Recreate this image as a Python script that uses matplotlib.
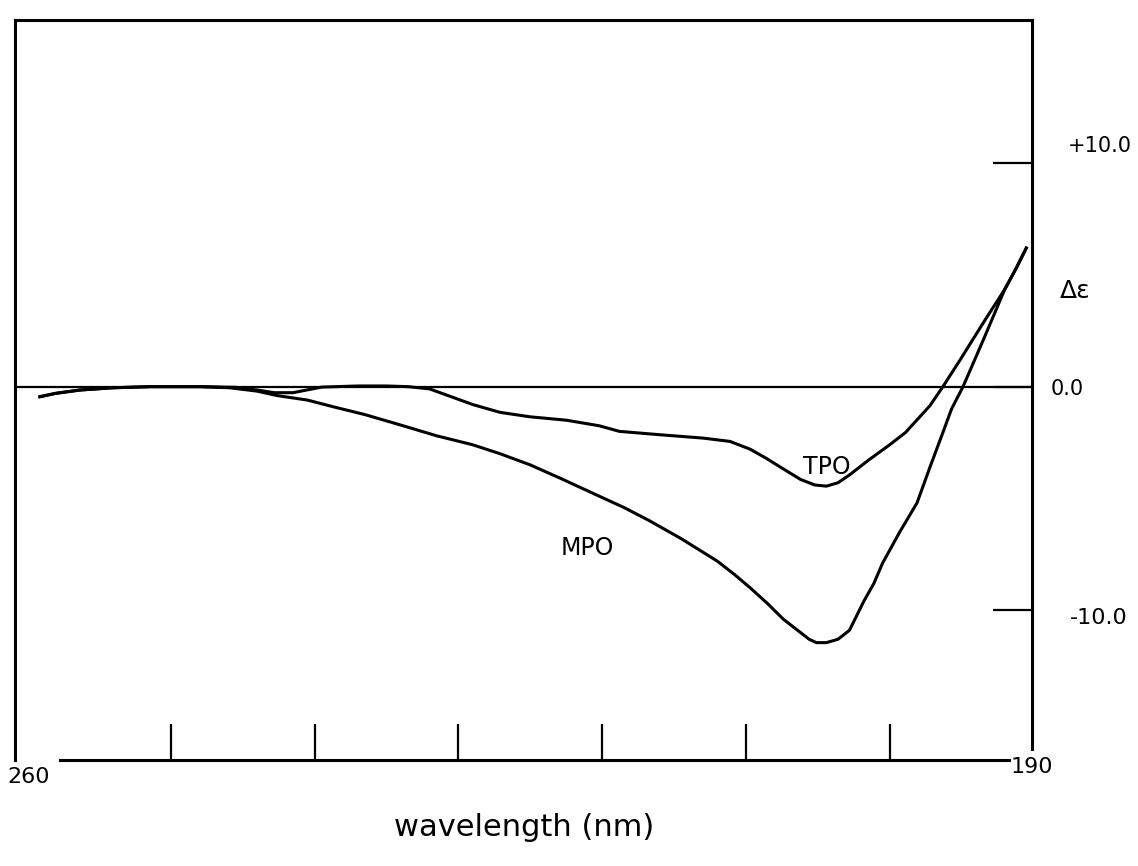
import matplotlib
matplotlib.use('Agg')
import matplotlib.pyplot as plt

# CD spectra: wavelength (nm) vs delta epsilon
mpo_wl = [259.1, 258.0, 256.3, 254.0, 251.4, 248.0, 245.9, 244.0, 242.6, 240.5,
          238.7, 236.5, 234.1, 231.5, 229.0, 227.1, 225.0, 222.9, 220.2, 218.5,
          216.7, 214.5, 212.0, 210.8, 209.7, 208.5, 207.4, 206.2, 205.6, 205.1,
          204.4, 203.6, 202.8, 201.8, 201.1, 200.5, 199.3, 198.1, 197.2, 196.3,
          195.7, 194.9, 193.45, 192.0, 191.2, 190.5]
mpo_de = [-0.45, -0.3, -0.15, -0.05, 0.0, 0.0, -0.05, -0.2, -0.4, -0.6,
          -0.9, -1.25, -1.7, -2.2, -2.6, -3.0, -3.5, -4.1, -4.9, -5.4,
          -6.0, -6.8, -7.8, -8.4, -9.0, -9.7, -10.4, -11.0, -11.3, -11.45,
          -11.45, -11.3, -10.9, -9.6, -8.8, -7.9, -6.5, -5.2, -3.6, -2.05,
          -1.0, 0.0, 2.15, 4.35, 5.3, 6.2]

tpo_wl = [259.1, 258.0, 256.3, 254.0, 251.4, 248.0, 245.5, 244.0, 242.8, 241.5,
          240.3, 239.5, 237.0, 235.0, 233.5, 232.0, 230.5, 229.0, 227.1, 225.0,
          222.5, 220.2, 218.8, 216.0, 213.0, 211.1, 209.7, 208.6, 207.6, 206.2,
          205.2, 204.4, 203.6, 202.8, 201.5, 200.0, 198.9, 197.2, 196.3, 195.1,
          193.4, 192.0, 191.2, 190.5]
tpo_de = [-0.45, -0.3, -0.15, -0.05, 0.0, 0.0, -0.03, -0.15, -0.27, -0.27,
          -0.12, -0.02, 0.03, 0.03, 0.0, -0.1, -0.45, -0.8, -1.15, -1.35,
          -1.5, -1.75, -2.0, -2.15, -2.3, -2.45, -2.8, -3.2, -3.6, -4.15,
          -4.4, -4.45, -4.3, -3.95, -3.3, -2.6, -2.05, -0.85, 0.0, 1.2,
          2.95, 4.35, 5.3, 6.2]

xticks = [250, 240, 230, 220, 210, 200]
yticks = [10, 0, -10]
ylabels = ['+10.0', '0.0', '-10.0']

fig = plt.figure(figsize=(11.38, 8.66), dpi=100)
ax = fig.add_axes([0.0132, 0.1224, 0.8937, 0.8545])
ax.set_xlim(260.83, 190.1)
ax.set_ylim(-16.7, 16.4)

ax.plot(mpo_wl, mpo_de, color='black', lw=2.2)
ax.plot(tpo_wl, tpo_de, color='black', lw=2.2)
ax.axhline(0, color='black', lw=1.6)

# frame: open box, separate shorter bottom line
for s in ['top', 'left', 'right', 'bottom']:
    ax.spines[s].set_linewidth(2.2)
ax.spines['bottom'].set_bounds(257.7, 191.7)
ax.spines['right'].set_bounds(-16.2, 16.4)

ax.set_xticks(xticks)
ax.set_xticklabels([])
ax.tick_params(axis='x', direction='in', length=26, width=1.6, bottom=True, top=False)

ax.set_yticks(yticks)
ax.set_yticklabels([])
ax.tick_params(axis='y', direction='in', length=28, width=1.6, left=False, right=True)

yt = ax.get_yaxis_transform()
ax.text(1.035, 10.76, ylabels[0], transform=yt, fontsize=15, ha='left', va='center')
ax.text(1.018, -0.1, ylabels[1], transform=yt, fontsize=15, ha='left', va='center')
ax.text(1.037, -10.35, ylabels[2], transform=yt, fontsize=16, ha='left', va='center')
ax.text(1.0275, 4.3, '\u0394\u03b5', transform=yt, fontsize=18, ha='left', va='center')

ax.text(259.9, -17.45, '260', fontsize=16, ha='center', va='center', clip_on=False)
ax.text(190.1, -17.0, '190', fontsize=16, ha='center', va='center', clip_on=False)

ax.text(204.4, -3.6, 'TPO', fontsize=17, ha='center', va='center')
ax.text(221.0, -7.2, 'MPO', fontsize=17, ha='center', va='center')

fig.text(0.461, 0.044, 'wavelength (nm)', fontsize=22, ha='center', va='center')

fig.savefig('out.png', dpi=100)
